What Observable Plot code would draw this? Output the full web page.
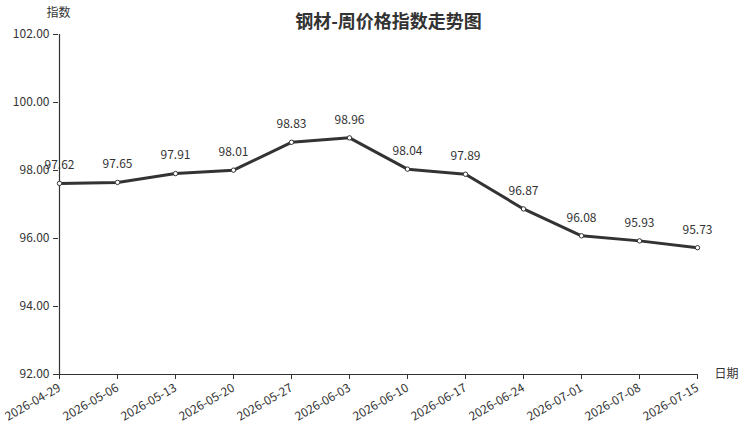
<!DOCTYPE html>
<html><head><meta charset="utf-8">
<script src="https://cdn.jsdelivr.net/npm/d3@7"></script>
<script src="https://cdn.jsdelivr.net/npm/@observablehq/plot@0.6"></script>
<style>body{margin:0;background:#fff;} svg{font-family:"Noto Sans CJK SC","Noto Sans",sans-serif;}</style>
</head><body><div id="chart"></div>
<script>
const dates = ["2026-04-29","2026-05-06","2026-05-13","2026-05-20","2026-05-27","2026-06-03","2026-06-10","2026-06-17","2026-06-24","2026-07-01","2026-07-08","2026-07-15"];
const values = [97.62,97.65,97.91,98.01,98.83,98.96,98.04,97.89,96.87,96.08,95.93,95.73];
const yTicks = [92,94,96,98,100,102];
const title = "钢材-周价格指数走势图";
const yLabel = "指数";
const xLabel = "日期";
const data = dates.map((d,i)=>({date:d, value:values[i]}));
const fmt = d3.format(".2f");
const chart = Plot.plot({
  width: 740, height: 430,
  marginLeft: 58, marginRight: 42, marginTop: 34, marginBottom: 56,
  style: {fontFamily: '"Noto Sans CJK SC","Noto Sans",sans-serif', fontSize: "12px", color: "#333", background: "#fff"},
  x: {type: "point", domain: dates, padding: 0, label: null},
  y: {domain: [92,102], label: null},
  marks: [
    Plot.axisY({ticks: yTicks, tickFormat: fmt, tickSize: 5, fontSize: 12, fill: "#333"}),
    Plot.axisX({tickRotate: -30, tickSize: 5, fontSize: 12, fill: "#333"}),
    Plot.ruleY([92], {stroke: "#333", strokeWidth: 1.2}),
    Plot.ruleX([dates[0]], {y1: 92, y2: 102, stroke: "#333", strokeWidth: 1.2}),
    Plot.line(data, {x: "date", y: "value", stroke: "#333", strokeWidth: 3}),
    Plot.dot(data, {x: "date", y: "value", r: 2.2, fill: "#fff", stroke: "#333", strokeWidth: 1}),
    Plot.text(data, {x: "date", y: "value", text: d => fmt(d.value), dy: -18, fill: "#333", fontSize: 12}),
    Plot.text([title], {frameAnchor: "top", dx: 10, dy: -12, lineAnchor: "middle", fontSize: 18, fontWeight: "bold", fill: "#333"}),
    Plot.text([yLabel], {frameAnchor: "top-left", textAnchor: "middle", lineAnchor: "middle", dy: -21, fontSize: 12, fill: "#333"}),
    Plot.text([xLabel], {frameAnchor: "bottom-right", textAnchor: "start", lineAnchor: "middle", dx: 16, fontSize: 12, fill: "#333"})
  ]
});
document.getElementById("chart").appendChild(chart);
</script></body></html>
